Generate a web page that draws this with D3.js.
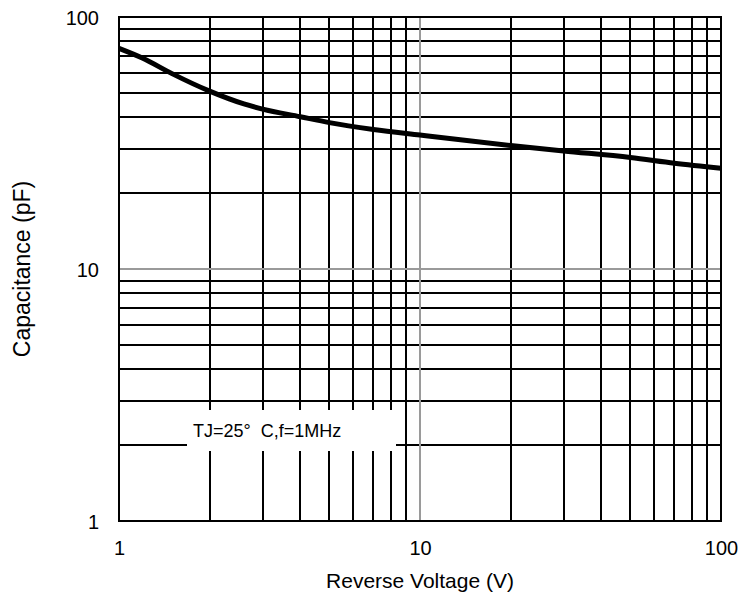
<!DOCTYPE html>
<html>
<head>
<meta charset="utf-8">
<script src="https://cdn.jsdelivr.net/npm/d3@7"></script>
<style>
  html, body { margin: 0; padding: 0; background: #fff; }
  svg { display: block; }
  text { font-family: "Liberation Sans", Arial, sans-serif; fill: #000; white-space: pre; }
</style>
</head>
<body>
<svg id="chart" width="740" height="594"></svg>
<script>
// Data
const voltage = [1, 1.2, 1.5, 2, 2.6, 3, 4, 5, 7, 10, 20, 30, 50, 70, 100];
const capacitance = [75.1, 68.6, 59.6, 50.8, 45.2, 43.1, 40.2, 38.1, 35.8, 34.0, 30.9, 29.4, 27.7, 26.3, 25.1];
const xTicks = [1, 10, 100];
const yTicks = [1, 10, 100];
const xTitle = "Reverse Voltage (V)";
const yTitle = "Capacitance (pF)";
const note = "TJ=25\u00B0  C,f=1MHz";

const svg = d3.select("#chart");
const pL = 119, pR = 721, pT = 17, pB = 521;

const x = d3.scaleLog().domain([1, 100]).range([pL, pR]);
const y = d3.scaleLog().domain([1, 100]).range([pB, pT]);

// minor grid values
const gridVals = [];
for (const dec of [1, 10]) for (let k = 2; k <= 9; k++) gridVals.push(k * dec);

const g = svg.append("g");
g.selectAll("line.vx").data(gridVals).enter().append("line")
  .attr("x1", d => Math.round(x(d))).attr("x2", d => Math.round(x(d)))
  .attr("y1", pT).attr("y2", pB)
  .attr("stroke", "#000").attr("stroke-width", 2);
g.selectAll("line.hy").data(gridVals).enter().append("line")
  .attr("y1", d => Math.round(y(d))).attr("y2", d => Math.round(y(d)))
  .attr("x1", pL).attr("x2", pR)
  .attr("stroke", "#000").attr("stroke-width", 2);
// gray major grid at 10
g.append("line").attr("x1", Math.round(x(10))).attr("x2", Math.round(x(10)))
  .attr("y1", pT).attr("y2", pB).attr("stroke", "#9a9a9a").attr("stroke-width", 2);
g.append("line").attr("y1", Math.round(y(10))).attr("y2", Math.round(y(10)))
  .attr("x1", pL).attr("x2", pR).attr("stroke", "#9a9a9a").attr("stroke-width", 2);

// annotation box
svg.append("rect").attr("x", 187).attr("y", 410).attr("width", 209).attr("height", 41)
  .attr("fill", "#fff");
svg.append("text").attr("x", 193).attr("y", 437).attr("font-size", 18).text(note);

// frame
svg.append("rect").attr("x", pL).attr("y", pT).attr("width", pR - pL).attr("height", pB - pT)
  .attr("fill", "none").attr("stroke", "#000").attr("stroke-width", 2);

// curve
const line = d3.line().x((d, i) => x(voltage[i])).y(d => y(d)).curve(d3.curveMonotoneX);
svg.append("path").datum(capacitance).attr("d", line)
  .attr("fill", "none").attr("stroke", "#000").attr("stroke-width", 5).attr("stroke-linejoin", "round");

// axes (labels only)
const xAxis = d3.axisBottom(x).tickValues(xTicks).tickFormat(d3.format("d")).tickSize(0).tickPadding(0);
const xa = svg.append("g").attr("transform", `translate(0,${pB})`).call(xAxis);
xa.select(".domain").remove();
xa.selectAll("text").attr("font-size", 20).attr("font-family", "Liberation Sans, Arial, sans-serif")
  .attr("dy", null).attr("y", 34);

const yAxis = d3.axisLeft(y).tickValues(yTicks).tickFormat(d3.format("d")).tickSize(0).tickPadding(0);
const ya = svg.append("g").attr("transform", `translate(${pL},0)`).call(yAxis);
ya.select(".domain").remove();
ya.selectAll("text").attr("font-size", 20).attr("font-family", "Liberation Sans, Arial, sans-serif")
  .attr("x", -20).attr("dy", "0.35em");

// titles
svg.append("text").attr("x", (pL + pR) / 2).attr("y", 588).attr("text-anchor", "middle")
  .attr("font-size", 21).text(xTitle);
svg.append("text").attr("transform", `translate(30,${(pT + pB) / 2}) rotate(-90)`)
  .attr("text-anchor", "middle").attr("font-size", 23).text(yTitle);
</script>
</body>
</html>
